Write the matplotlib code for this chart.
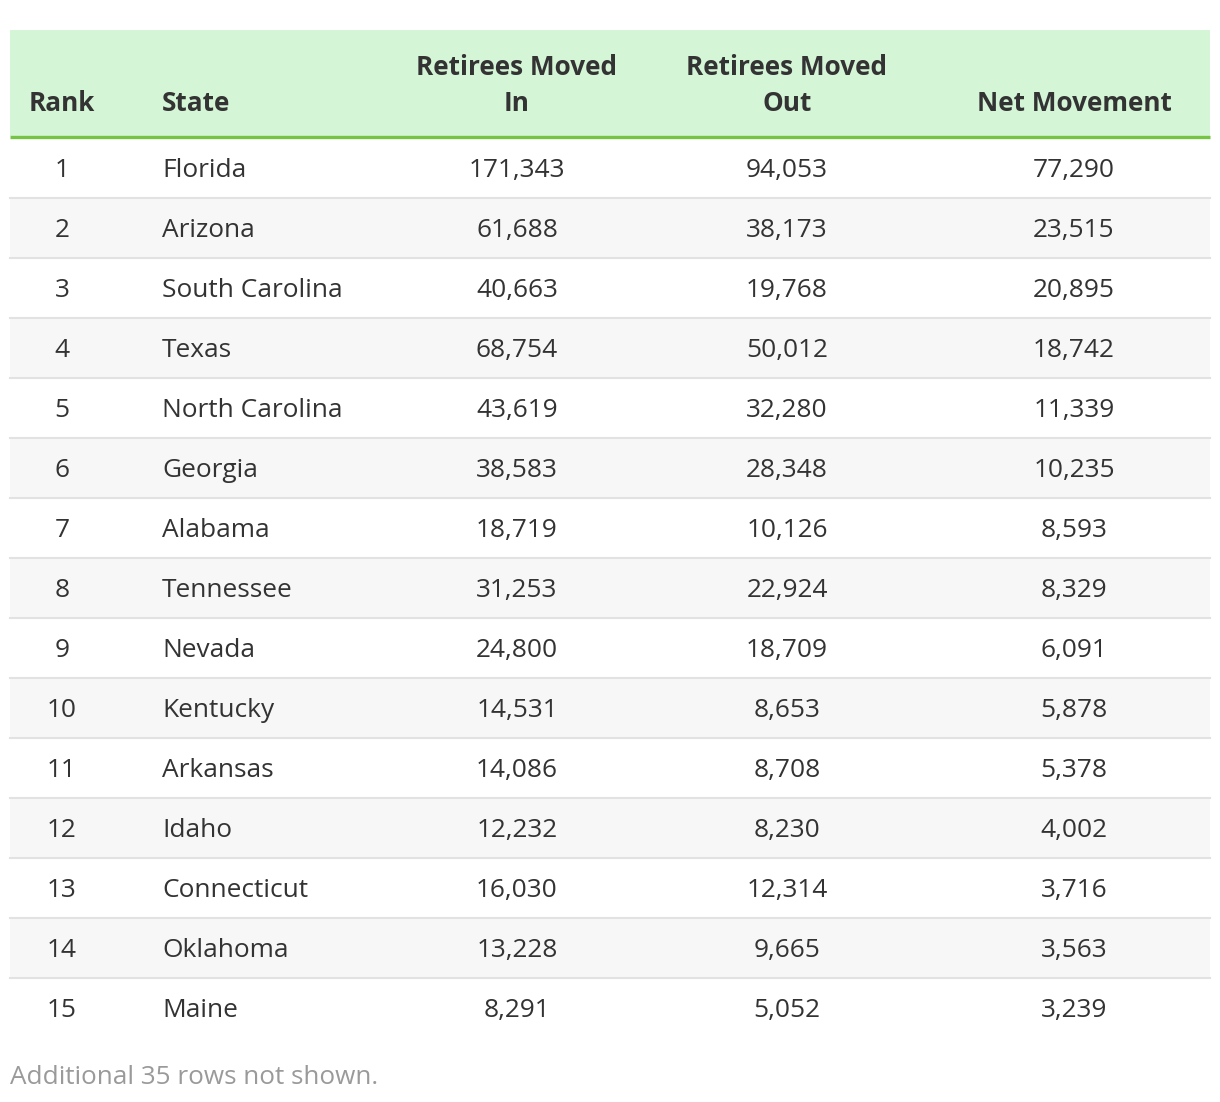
"""Top states for retiree net movement, drawn as a striped table."""
import matplotlib
matplotlib.use("Agg")
import matplotlib.pyplot as plt
from matplotlib.patches import Rectangle

plt.rcParams["font.family"] = ["Open Sans", "DejaVu Sans"]

ranks = list(range(1, 16))
states = ["Florida", "Arizona", "South Carolina", "Texas", "North Carolina",
          "Georgia", "Alabama", "Tennessee", "Nevada", "Kentucky",
          "Arkansas", "Idaho", "Connecticut", "Oklahoma", "Maine"]
moved_in = [171343, 61688, 40663, 68754, 43619, 38583, 18719, 31253,
            24800, 14531, 14086, 12232, 16030, 13228, 8291]
moved_out = [94053, 38173, 19768, 50012, 32280, 28348, 10126, 22924,
             18709, 8653, 8708, 8230, 12314, 9665, 5052]
net_movement = [77290, 23515, 20895, 18742, 11339, 10235, 8593, 8329,
                6091, 5878, 5378, 4002, 3716, 3563, 3239]
headers = ["Rank", "State", "Retirees Moved\nIn", "Retirees Moved\nOut", "Net Movement"]
footnote = "Additional 35 rows not shown."

W, H = 1220, 1102
fig = plt.figure(figsize=(W / 100, H / 100), dpi=100)
ax = fig.add_axes([0, 0, 1, 1])
ax.set_xlim(0, W)
ax.set_ylim(H, 0)
ax.axis("off")

left, right = 10, 1210
head_top, head_bot = 30, 136
row_h = 60
body_top = 138

# column anchors (x, ha)
cols = [(62, "center"), (162, "left"), (517, "center"), (787, "center"), (1074, "center")]

TEXT = "#333333"
FS = 18.9

# header
ax.add_patch(Rectangle((left, head_top), right - left, head_bot - head_top,
                       facecolor="#d5f5d7", edgecolor="none"))
ax.plot([left, right], [137, 137], color="#76c443", linewidth=2.4, solid_capstyle="butt")
for (x, ha), h in zip(cols, headers):
    lines = h.split("\n")
    for k, line in enumerate(reversed(lines)):
        ax.text(x, 103.5 - 36 * k, line, ha=ha, va="center", fontsize=18.8,
                fontweight="bold", color=TEXT)

# body rows
for i in range(len(states)):
    y0 = body_top + i * row_h
    if i % 2 == 1:
        ax.add_patch(Rectangle((left, y0), right - left, row_h,
                               facecolor="#f7f7f7", edgecolor="none"))
    if i < len(states) - 1:
        ax.plot([left, right], [y0 + row_h, y0 + row_h], color="#e2e2e2", linewidth=1.5)
    yc = y0 + row_h / 2 + 2.5
    vals = [str(ranks[i]), states[i], f"{moved_in[i]:,}",
            f"{moved_out[i]:,}", f"{net_movement[i]:,}"]
    for (x, ha), v in zip(cols, vals):
        ax.text(x, yc, v, ha=ha, va="center", fontsize=FS, color=TEXT)

ax.text(left, 1077, footnote, ha="left", va="center", fontsize=18.8, color="#9a9a9a")

fig.savefig("out.png", dpi=100, facecolor="white")
